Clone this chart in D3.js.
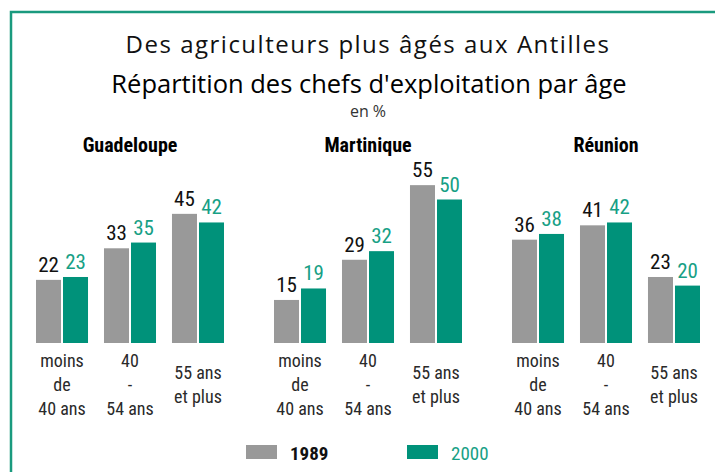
<!DOCTYPE html>
<html>
<head>
<meta charset="utf-8">
<script src="https://cdn.jsdelivr.net/npm/d3@7"></script>
<style>
  body { margin: 0; background: #fff; }
  .cond { font-family: "Liberation Sans Narrow", "Roboto Condensed", "DejaVu Sans Condensed", sans-serif; }
</style>
</head>
<body>
<div id="chart"></div>
<script>
// data
var regions = ["Guadeloupe", "Martinique", "Réunion"];
var ageGroups = ["moins40", "40-54", "55plus"];
var ageLabels = [["moins", "de", "40 ans"], ["40", "-", "54 ans"], ["55 ans", "et plus"]];
var years = ["1989", "2000"];
var values1989 = [[22, 33, 45], [15, 29, 55], [36, 41, 23]];
var values2000 = [[23, 35, 42], [19, 32, 50], [38, 42, 20]];

var width = 715, height = 472;
var grey = "#999999", green = "#00927a", greenText = "#17a085";

var svg = d3.select("#chart").append("svg")
  .attr("width", width).attr("height", height);

// frame
svg.append("path")
  .attr("d", "M11,480 V12 H720")
  .attr("fill", "none")
  .attr("stroke", "#1a9a7e")
  .attr("stroke-width", 2.5);

// titles
svg.append("text").attr("x", 368).attr("y", 53).attr("text-anchor", "middle")
  .style("font-family", "'Open Sans', sans-serif").style("font-size", "24px")
  .style("letter-spacing", "1.5px").attr("fill", "#111")
  .text("Des agriculteurs plus âgés aux Antilles");
svg.append("text").attr("x", 369).attr("y", 93).attr("text-anchor", "middle")
  .style("font-family", "'Open Sans', sans-serif").style("font-size", "25.5px")
  .attr("fill", "#000")
  .text("Répartition des chefs d'exploitation par âge");
svg.append("text").attr("x", 368).attr("y", 117).attr("text-anchor", "middle")
  .style("font-family", "'Open Sans', sans-serif").style("font-size", "16px")
  .attr("fill", "#333")
  .text("en %");

// scales
var x0 = d3.scaleBand().domain(regions).range([11, 725]);
var x1 = d3.scaleBand().domain(ageGroups).range([25, 213]).paddingInner(0.235);
var x2 = d3.scaleBand().domain(years).range([0, x1.bandwidth()]).paddingInner(0.074);
var y = d3.scaleLinear().domain([0, 60]).range([343, 170.8]);

var rows = [];
regions.forEach(function(r, i){
  ageGroups.forEach(function(a, j){
    rows.push({region: r, age: a, year: "1989", value: values1989[i][j]});
    rows.push({region: r, age: a, year: "2000", value: values2000[i][j]});
  });
});

function bx(d){ return x0(d.region) + x1(d.age) + x2(d.year); }

svg.selectAll(".bar").data(rows).enter().append("rect")
  .attr("class", "bar")
  .attr("x", bx)
  .attr("y", function(d){ return y(d.value); })
  .attr("width", x2.bandwidth())
  .attr("height", function(d){ return y(0) - y(d.value); })
  .attr("fill", function(d){ return d.year == "1989" ? grey : green; });

svg.selectAll(".val").data(rows).enter().append("text")
  .attr("class", "val cond")
  .attr("x", function(d){ return bx(d) + x2.bandwidth() / 2; })
  .attr("y", function(d){ return y(d.value) - 8; })
  .attr("text-anchor", "middle")
  .style("font-size", "21px")
  .attr("fill", function(d){ return d.year == "1989" ? "#111" : greenText; })
  .text(function(d){ return d.value; });

// region titles
svg.selectAll(".region").data(regions).enter().append("text")
  .attr("class", "region cond")
  .attr("x", function(d){ return x0(d) + x0.bandwidth() / 2; })
  .attr("y", 152)
  .attr("text-anchor", "middle")
  .style("font-size", "20px").style("font-weight", "bold")
  .attr("fill", "#000")
  .text(function(d){ return d; });

// category labels
regions.forEach(function(r){
  ageGroups.forEach(function(a, j){
    var lines = ageLabels[j];
    var y0 = lines.length == 3 ? 367 : 379;
    var t = svg.append("text").attr("class", "cond")
      .attr("text-anchor", "middle")
      .style("font-size", "18px").attr("fill", "#2a2a2a");
    lines.forEach(function(l, k){
      t.append("tspan")
        .attr("x", x0(r) + x1(a) + x1.bandwidth() / 2)
        .attr("y", y0 + k * 24)
        .text(l);
    });
  });
});

// legend
var legend = [{year: "1989", x: 246, color: grey, text: "#111", weight: "bold"},
              {year: "2000", x: 407, color: green, text: greenText, weight: "normal"}];
var lg = svg.selectAll(".legend").data(legend).enter().append("g")
  .attr("transform", function(d){ return "translate(" + d.x + ",445)"; });
lg.append("rect").attr("width", 31).attr("height", 14).attr("fill", function(d){ return d.color; });
lg.append("text").attr("class", "cond").attr("x", 44).attr("y", 15)
  .style("font-size", "19px").style("font-weight", function(d){ return d.weight; })
  .attr("fill", function(d){ return d.text; })
  .text(function(d){ return d.year; });
</script>
</body>
</html>
